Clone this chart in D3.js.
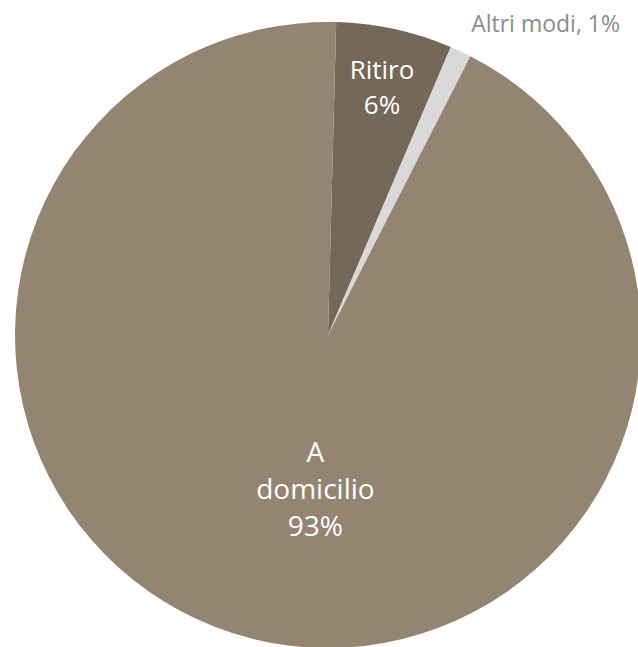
<!DOCTYPE html>
<html lang="it">
<head>
    <meta charset="UTF-8">
    <title>Modalità di consegna</title>
    <script src="https://cdn.jsdelivr.net/npm/d3@7"></script>
    <style>
        body { margin: 0; background: #fff; }
        text { font-family: "Open Sans", Lato, sans-serif; }
    </style>
</head>
<body>
    <div id="chart"></div>
    <script>

        const categories = ["Ritiro", "Altri modi", "A domicilio"];
        const values = [6.0, 1.1, 92.9];
        const labels = ["6%", "1%", "93%"];

        const width = 638;
        const height = 647;
        const cx = 328;
        const cy = 335;
        const radius = 313;

        const colors = ["#746858", "#d9d9d9", "#948573"];

        const svg = d3.select("#chart")
            .append("svg")
            .attr("width", width)
            .attr("height", height);

        const pie = d3.pie()
            .sort(null)
            .startAngle(1.5 * Math.PI / 180)
            .endAngle(1.5 * Math.PI / 180 + 2 * Math.PI)
            .value(d => d);

        const arcs = pie(values);

        const arc = d3.arc().innerRadius(0).outerRadius(radius);

        const g = svg.append("g").attr("transform", `translate(${cx},${cy})`);

        g.selectAll("path")
            .data(arcs)
            .join("path")
            .attr("d", arc)
            .attr("fill", (d, i) => colors[i]);

        // label radius as a share of the pie radius, plus a small nudge like the original
        const labelPos = [
            { r: 0.81, dx: 0 },
            { r: 1.0, dx: 0 },
            { r: 0.5, dx: 26 }
        ];

        // Ritiro
        {
            const a = arcs[0];
            const la = d3.arc().innerRadius(radius * labelPos[0].r).outerRadius(radius * labelPos[0].r);
            const [x, y] = la.centroid(a);
            const t = g.append("text")
                .attr("text-anchor", "middle")
                .attr("fill", "#fff")
                .attr("font-size", 26);
            t.append("tspan").attr("x", x).attr("y", y - 8).text(categories[0]);
            t.append("tspan").attr("x", x).attr("y", y + 27).text(labels[0]);
        }

        // A domicilio
        {
            const a = arcs[2];
            const la = d3.arc().innerRadius(radius * labelPos[2].r).outerRadius(radius * labelPos[2].r);
            const [x0, y0] = la.centroid(a);
            const x = x0 + labelPos[2].dx;
            const y = y0;
            const t = g.append("text")
                .attr("text-anchor", "middle")
                .attr("fill", "#fff")
                .attr("font-size", 28);
            const parts = categories[2].split(" ");
            t.append("tspan").attr("x", x).attr("y", y - 25).text(parts[0]);
            t.append("tspan").attr("x", x).attr("y", y + 12).text(parts[1]);
            t.append("tspan").attr("x", x).attr("y", y + 49).text(labels[2]);
        }

        // Altri modi, outside, right-aligned near the top right corner
        g.append("text")
            .attr("x", width - 18 - cx)
            .attr("y", 32 - cy)
            .attr("text-anchor", "end")
            .attr("fill", "#8c8c8c")
            .attr("font-size", 23)
            .text(`${categories[1]}, ${labels[1]}`);

    </script>
</body>
</html>
